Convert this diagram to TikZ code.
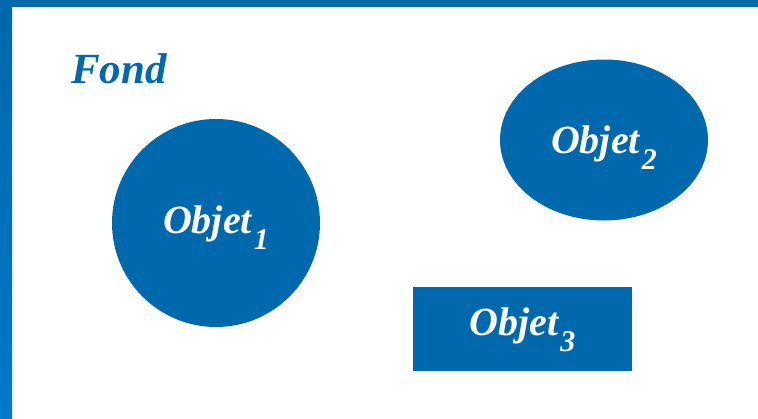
\documentclass[tikz,border=0pt]{standalone}
\usepackage{fontspec}
\setmainfont{Liberation Serif}
\usetikzlibrary{shapes.geometric}
\definecolor{bleuObjet}{HTML}{0068AC}
\definecolor{bleuClair}{HTML}{0079C9}
\newcommand{\indice}[1]{\kern2pt\raisebox{-16pt}{\fontsize{30}{30}\selectfont #1}}

\begin{document}
\begin{tikzpicture}[x=1pt,y=-1pt,
  objet/.style={fill=bleuObjet,text=white,inner sep=0pt,text depth=0pt,
    font=\fontsize{40}{44}\selectfont\bfseries\itshape}]
  \useasboundingbox (0,0) rectangle (758,418);
  \fill[bleuObjet] (0,0) rectangle (758,7);
  \shade[top color=bleuObjet,bottom color=bleuClair] (0,0) rectangle (12,418);
  \node[anchor=base west,text=bleuObjet,inner sep=0pt,
    font=\fontsize{43}{48}\selectfont\bfseries\itshape] (fond) at (71,83) {Fond};
  \node[objet,circle,minimum size=208pt,text height=20pt] (objet1) at (216,223) {Objet\indice{1}};
  \node[objet,ellipse,minimum width=208pt,minimum height=161pt,text height=26pt] (objet2) at (604,140) {Objet\indice{2}};
  \node[objet,rectangle,minimum width=219pt,minimum height=84pt,text height=12pt] (objet3) at (522.5,329) {Objet\indice{3}};
\end{tikzpicture}
\end{document}
